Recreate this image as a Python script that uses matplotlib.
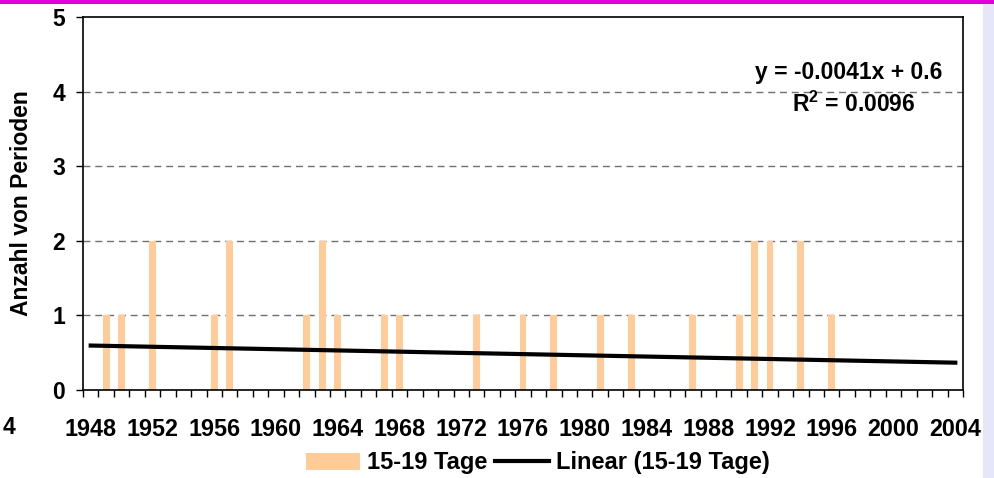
import numpy as np
import matplotlib
matplotlib.use('Agg')
from matplotlib import pyplot as plt
from matplotlib.patches import Patch, Rectangle
from matplotlib.lines import Line2D
from matplotlib.ticker import MultipleLocator, FixedLocator

# Anzahl Perioden mit 15-19 Tagen pro Jahr
years = list(range(1948, 2005))
event_years = [1949, 1950, 1952, 1956, 1957, 1962, 1963, 1964, 1967, 1968, 1973,
               1976, 1978, 1981, 1983, 1987, 1990, 1991, 1992, 1994, 1996]
event_counts = [1, 1, 2, 1, 2, 1, 2, 1, 1, 1, 1,
                1, 1, 1, 1, 1, 1, 2, 2, 2, 1]
tick_years = list(range(1948, 2005, 4))

# Excel-Trendlinie (x = laufende Nummer der Kategorie)
trend_slope = -0.0041
trend_intercept = 0.6
r_squared = 0.0096

counts = dict(zip(event_years, event_counts))
values = [counts.get(y, 0) for y in years]
idx = np.arange(1, len(years) + 1)
trend = trend_slope * idx + trend_intercept

plt.rcParams['font.family'] = ['Liberation Sans', 'DejaVu Sans']
plt.rcParams['font.weight'] = 'bold'
plt.rcParams['mathtext.fontset'] = 'custom'
plt.rcParams['mathtext.bf'] = 'Liberation Sans:bold'
plt.rcParams['mathtext.rm'] = 'Liberation Sans:bold'

fig = plt.figure(figsize=(9.94, 4.78), dpi=100)
ax = fig.add_axes([83 / 994, 1 - 390 / 478, 880 / 994, 373 / 478])

ax.bar(years, values, width=0.45, color='#FFCC99', zorder=2)
ax.plot(years, trend, color='black', linewidth=3, zorder=3)

ax.set_xlim(years[0] - 0.5, years[-1] + 0.5)
ax.set_ylim(0, 5)

for g in [1, 2, 3, 4]:
    ax.axhline(g, color='#707070', linewidth=1, linestyle=(0, (5, 3.5)), zorder=1)

ax.set_xticks(tick_years)
ax.set_xticklabels([str(y) for y in tick_years])
ax.xaxis.set_minor_locator(FixedLocator(np.arange(years[0] - 0.5, years[-1] + 1, 1)))
ax.tick_params(axis='x', which='major', length=0, pad=20, labelsize=16.8)
ax.tick_params(axis='x', which='minor', length=5, width=1, direction='out', color='black')
ax.yaxis.set_major_locator(MultipleLocator(1))
ax.tick_params(axis='y', length=5, width=1, direction='out', pad=8, labelsize=16.5)
for lab in ax.get_xticklabels() + ax.get_yticklabels():
    lab.set_fontweight('bold')

for s in ax.spines.values():
    s.set_color('black')
    s.set_linewidth(1.2)

ax.set_ylabel('Anzahl von Perioden', fontsize=16.5, fontweight='bold', labelpad=14)

ax.text(years[-1] - 0.85, 4.25, 'y = -0.0041x + 0.6', ha='right', va='center',
        fontsize=16.5, fontweight='bold')
ax.text(years[-1] - 6.6, 3.83, r'R$^{2}$ = %.4f' % r_squared, ha='center', va='center',
        fontsize=16.5, fontweight='bold')

# abgeschnittene Beschriftung links
fig.text(0.003, 1 - 427 / 478, '4', ha='left', va='center', fontsize=16.5, fontweight='bold')

handles = [Patch(facecolor='#FFCC99', edgecolor='none'),
           Line2D([0], [0], color='black', linewidth=3)]
fig.legend(handles, ['15-19 Tage', 'Linear (15-19 Tage)'], loc='center',
           bbox_to_anchor=(538 / 994, 1 - 463 / 478), ncol=2, frameon=False,
           prop={'size': 17, 'weight': 'bold'}, handlelength=2.3,
           handletextpad=0.3, columnspacing=0.3)

# Rahmen oben und rechts
fig.patches.append(Rectangle((0, 1 - 4 / 478), 1, 4 / 478, transform=fig.transFigure,
                             facecolor='#DD00DD', edgecolor='none'))
fig.patches.append(Rectangle((983 / 994, 0), 11 / 994, 1 - 4 / 478, transform=fig.transFigure,
                             facecolor='#E6E6FA', edgecolor='none'))

fig.savefig('out.png', dpi=100)
